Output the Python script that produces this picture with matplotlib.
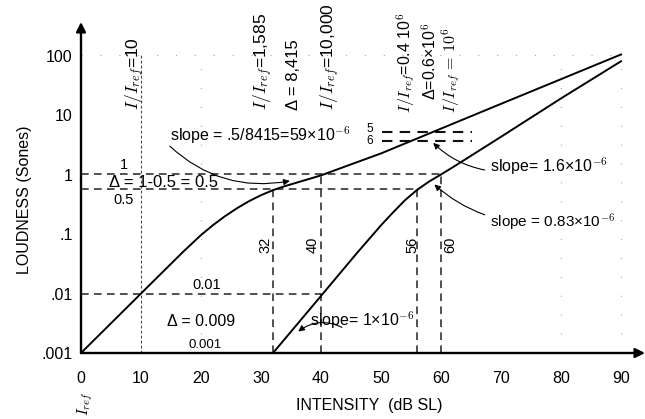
import matplotlib
matplotlib.use("Agg")
import matplotlib.pyplot as plt
import numpy as np

plt.rcParams['font.family'] = ['Liberation Sans', 'DejaVu Sans']
plt.rcParams['mathtext.fontset'] = 'cm'

# ---- data ----
normal_db = [0, 10, 17, 20, 22, 24, 26, 28, 30, 32, 34, 37, 40, 45, 50, 60, 70, 80, 90]
normal_sones = [0.001, 0.01, 0.05, 0.096, 0.141, 0.199, 0.271, 0.356, 0.449, 0.546,
                0.638, 0.785, 0.966, 1.48, 2.26, 5.9, 15.4, 40, 104]
impaired_db = [32, 40, 46, 50, 52, 54, 56, 58, 60, 62, 70, 80, 90]
impaired_sones = [0.001, 0.0091, 0.048, 0.14, 0.23, 0.37, 0.55, 0.76, 1.0, 1.33, 4.3, 19, 80]

x_ticks = [0, 10, 20, 30, 40, 50, 60, 70, 80, 90]
y_ticks = [0.001, 0.01, 0.1, 1, 10, 100]
y_tick_labels = ['.001', '.01', '.1', '1', '10', '100']

# reference dashed guides
h_guides_y = [1.0, 0.58, 0.01]
h_guides_x_end = [60, 56, 40]
v_guides_x = [32, 40, 56, 60]
v_guides_top = [0.58, 1.0, 0.58, 1.0]
v_guide_labels = ['32', '40', '56', '60']
short_guides_y = [5.25, 3.7]
short_guides_labels = ['5', '6']
short_guides_x = [50.2, 65.2]
faint_x = [20, 80, 90]

W, H = 645, 419
fig = plt.figure(figsize=(W / 100, H / 100), dpi=100)
x0px, y0px, ytop_px, xright_px = 81, 353, 22, 645
ax = fig.add_axes([x0px / W, (H - y0px) / H, (xright_px - x0px) / W, (y0px - ytop_px) / H])
ax.set_yscale('log')
ax.set_xlim(0, (xright_px - x0px) / 6.0)
ax.set_ylim(0.001, 10 ** (-3 + (y0px - ytop_px) / 59.5))

def fx(px):
    return px / W

def fy(py):
    return 1 - py / H

for s in ax.spines.values():
    s.set_visible(False)
ax.set_facecolor('none')
ax.set_xticks(x_ticks)
ax.set_xticklabels([str(v) for v in x_ticks])
ax.set_yticks(y_ticks)
ax.set_yticklabels(y_tick_labels)
ax.minorticks_off()
ax.tick_params(axis='both', length=0, labelsize=11.5)
ax.tick_params(axis='x', pad=13)
ax.tick_params(axis='y', pad=6)

# axis arrows
ax.annotate('', xy=(1, 0), xytext=(0, 0), xycoords='axes fraction',
            arrowprops=dict(arrowstyle='-|>', lw=1.7, color='k', mutation_scale=14,
                            shrinkA=0, shrinkB=0))
ax.annotate('', xy=(0, 1), xytext=(0, 0), xycoords='axes fraction',
            arrowprops=dict(arrowstyle='-|>', lw=1.7, color='k', mutation_scale=14,
                            shrinkA=0, shrinkB=0))

# faint dotted grid
for xv in faint_x:
    ax.plot([xv, xv], [0.001, 100], color='#a8a8a8', lw=0.8, ls=(0, (1, 16)))
ax.plot([0, 90], [100, 100], color='#a8a8a8', lw=0.8, ls=(0, (1, 16)))
ax.plot([10, 10], [0.001, 100], color='#444444', lw=0.8, ls=(0, (2.5, 2)))

dash = (0, (5, 3.5))
for yv, xe in zip(h_guides_y, h_guides_x_end):
    ax.plot([0, xe], [yv, yv], color='#222222', lw=1.1, ls=dash)
for xv, yt in zip(v_guides_x, v_guides_top):
    ax.plot([xv, xv], [0.001, yt], color='#222222', lw=1.1, ls=dash)
for yv in short_guides_y:
    ax.plot(short_guides_x, [yv, yv], color='#111111', lw=1.5, ls=dash)

# curves
ax.plot(normal_db, normal_sones, color='k', lw=1.4, solid_joinstyle='round')
ax.plot(impaired_db, impaired_sones, color='k', lw=1.4, solid_joinstyle='round')

# axis titles
fig.text(fx(25), fy(200), 'LOUDNESS (Sones)', rotation=90, ha='center', va='center', fontsize=11.5)
fig.text(fx(369), fy(405), 'INTENSITY  (dB SL)', ha='center', va='center', fontsize=11.5)
fig.text(fx(85), fy(416), r'$I_{ref}$', rotation=90, ha='center', va='bottom', fontsize=11)

# rotated labels at top
top_labels = [
    (135, 110, r'$I/I_{ref}$=10', 12.5),
    (263, 110, r'$I/I_{ref}$=1,585', 12.5),
    (293, 110, 'Δ = 8,415', 12),
    (330, 110, r'$I/I_{ref}$=10,000', 12.5),
    (406, 113, r'$I/I_{ref}$=0.4 10$^6$', 11.5),
    (429, 100, r'Δ=0.6×10$^6$', 11.5),
    (451, 113, r'$I/I_{ref}\,=\,10^6$', 11.5),
]
for px, py, t, fs in top_labels:
    fig.text(fx(px), fy(py), t, rotation=90, ha='center', va='bottom', fontsize=fs)

# labels of the guide lines
fig.text(fx(124), fy(165), '1', ha='center', va='center', fontsize=10.5)
fig.text(fx(109), fy(182), 'Δ = 1-0.5 = 0.5', ha='left', va='center', fontsize=12)
fig.text(fx(124), fy(200), '0.5', ha='center', va='center', fontsize=10.5)
fig.text(fx(207), fy(285), '0.01', ha='center', va='center', fontsize=10.5)
fig.text(fx(167), fy(322), 'Δ = 0.009', ha='left', va='center', fontsize=11.5)
fig.text(fx(205), fy(345), '0.001', ha='center', va='center', fontsize=9.5)
for px, t in zip([265, 313, 412, 450], v_guide_labels):
    fig.text(fx(px), fy(245), t, rotation=90, ha='center', va='center', fontsize=10.5)
for py, t in zip([129, 141], short_guides_labels):
    fig.text(fx(373), fy(py), t, ha='right', va='center', fontsize=8.5)

# slope annotations
ann = dict(arrowstyle='-|>', lw=0.8, color='k', mutation_scale=9, shrinkA=0, shrinkB=0)
fig.text(fx(170), fy(135), r'slope = .5/8415=59×10$^{-6}$', ha='left', va='center', fontsize=11.5)
ax.annotate('', xy=(34.8, 0.78), xytext=(14.8, 3.0),
            arrowprops=dict(connectionstyle='arc3,rad=0.25', **ann))
fig.text(fx(310), fy(320), r'slope= 1×10$^{-6}$', ha='left', va='center', fontsize=11.5)
ax.annotate('', xy=(36.2, 0.0023), xytext=(43.5, 0.0027),
            arrowprops=dict(connectionstyle='arc3,rad=0.3', **ann))
fig.text(fx(490), fy(166), r'slope= 1.6×10$^{-6}$', ha='left', va='center', fontsize=11.5)
ax.annotate('', xy=(58.7, 3.4), xytext=(67.3, 1.19),
            arrowprops=dict(connectionstyle='arc3,rad=-0.15', **ann))
fig.text(fx(490), fy(222), r'slope = 0.83×10$^{-6}$', ha='left', va='center', fontsize=11)
ax.annotate('', xy=(58.9, 0.68), xytext=(67.3, 0.21),
            arrowprops=dict(connectionstyle='arc3,rad=-0.1', **ann))

fig.savefig('out.png', dpi=100)
